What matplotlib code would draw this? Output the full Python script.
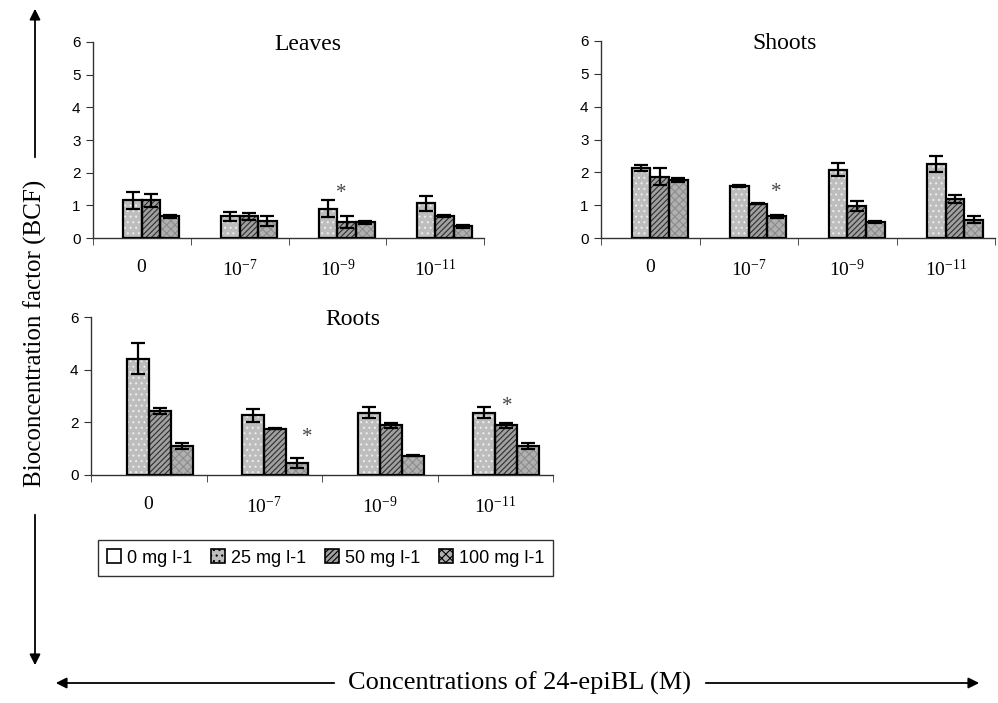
import numpy as np
import matplotlib
matplotlib.use('Agg')
import matplotlib.pyplot as plt
from matplotlib.patches import Patch

# 数据
categories = [r'$\mathregular{0}$', r'$\mathregular{10^{-7}}$',
              r'$\mathregular{10^{-9}}$', r'$\mathregular{10^{-11}}$']
series = ['0 mg l-1', '25 mg l-1', '50 mg l-1', '100 mg l-1']

leaves_0 = [0, 0, 0, 0]
leaves_25 = [1.15, 0.66, 0.90, 1.06]
leaves_50 = [1.15, 0.66, 0.49, 0.66]
leaves_100 = [0.66, 0.51, 0.48, 0.36]
leaves_25_err = [0.25, 0.15, 0.25, 0.24]
leaves_50_err = [0.20, 0.10, 0.17, 0.03]
leaves_100_err = [0.05, 0.15, 0.05, 0.04]

shoots_0 = [0, 0, 0, 0]
shoots_25 = [2.13, 1.59, 2.08, 2.26]
shoots_50 = [1.87, 1.05, 0.98, 1.19]
shoots_100 = [1.77, 0.66, 0.50, 0.56]
shoots_25_err = [0.10, 0.03, 0.20, 0.24]
shoots_50_err = [0.27, 0.02, 0.16, 0.11]
shoots_100_err = [0.05, 0.04, 0.03, 0.10]

roots_0 = [0, 0, 0, 0]
roots_25 = [4.42, 2.26, 2.37, 2.37]
roots_50 = [2.44, 1.76, 1.89, 1.89]
roots_100 = [1.10, 0.44, 0.74, 1.10]
roots_25_err = [0.60, 0.26, 0.20, 0.20]
roots_50_err = [0.12, 0.02, 0.10, 0.10]
roots_100_err = [0.12, 0.19, 0.03, 0.11]

# 星号: (类别, 偏移, y)
leaves_stars = [(2, 0.04, 1.37)]
shoots_stars = [(1, 0.28, 1.40)]
roots_stars = [(1, 0.37, 1.44), (3, 0.10, 2.62)]

SERIF = 'Liberation Serif'
SANS = 'Liberation Sans'
plt.rcParams['font.family'] = SANS
plt.rcParams['hatch.linewidth'] = 0.8

# 填充样式
faces = ['white', '#bdbdbd', '#a0a0a0', '#b0b0b0']
hatches = [None, '...', '//////', 'xxxx']
hatch_cols = [None, '#ececec', '#2e2e2e', '#8c8c8c']
bw = 0.19

fig = plt.figure(figsize=(9.98, 7.03), dpi=100)
W, H = 998, 703


def px_axes(l, t, r, b):
    return fig.add_axes([l / W, 1 - b / H, (r - l) / W, (b - t) / H])


def draw_panel(ax, title, tx, vals, errs, stars, yticks):
    x = np.arange(len(categories))
    for i, v in enumerate(vals):
        pos = x + (i - 1.5) * bw
        v = np.array(v)
        if v.max() == 0:
            continue
        ax.bar(pos, v, bw, color=faces[i], linewidth=0, zorder=2)
        if hatches[i]:
            ax.bar(pos, v, bw, fill=False, hatch=hatches[i],
                   edgecolor=hatch_cols[i], linewidth=0, zorder=3)
        ax.bar(pos, v, bw, fill=False, edgecolor='black', linewidth=1.6, zorder=4)
        if errs[i] is not None:
            ax.errorbar(pos, v, yerr=errs[i], fmt='none', ecolor='black',
                        elinewidth=1.6, capsize=5, capthick=1.6, zorder=5)
    for c, off, y in stars:
        ax.text(c + off, y, '*', ha='center', va='center', fontsize=15,
                family=SERIF, color='#444444', zorder=6)
    ax.text(tx, 0.985, title, transform=ax.transAxes, ha='center', va='center',
            fontsize=17, family=SERIF)
    ax.set_xlim(-0.5, len(categories) - 0.5)
    ax.set_ylim(0, 6)
    ax.set_yticks(yticks)
    ax.set_xticks(x)
    ax.set_xticklabels(categories, family=SERIF, fontsize=14)
    ax.set_xticks(np.arange(len(categories) + 1) - 0.5, minor=True)
    ax.tick_params(axis='x', which='major', length=0, pad=15)
    ax.tick_params(axis='x', which='minor', length=5, direction='out', color='#333333')
    ax.tick_params(axis='y', length=5, direction='out', labelsize=11, pad=4,
                   color='#333333')
    for s in ['top', 'right']:
        ax.spines[s].set_visible(False)
    for s in ['left', 'bottom']:
        ax.spines[s].set_color('#333333')
        ax.spines[s].set_linewidth(1.0)
    ax.set_facecolor('none')


ax1 = px_axes(93, 42, 484, 238)
draw_panel(ax1, 'Leaves', 0.55,
           [leaves_0, leaves_25, leaves_50, leaves_100],
           [None, leaves_25_err, leaves_50_err, leaves_100_err],
           leaves_stars, range(0, 7))

ax2 = px_axes(601, 41, 995, 238)
draw_panel(ax2, 'Shoots', 0.467,
           [shoots_0, shoots_25, shoots_50, shoots_100],
           [None, shoots_25_err, shoots_50_err, shoots_100_err],
           shoots_stars, range(0, 7))

ax3 = px_axes(91, 317, 553, 475)
draw_panel(ax3, 'Roots', 0.567,
           [roots_0, roots_25, roots_50, roots_100],
           [None, roots_25_err, roots_50_err, roots_100_err],
           roots_stars, range(0, 7, 2))

# 图例
handles = []
for i, name in enumerate(series):
    handles.append(Patch(facecolor=faces[i], edgecolor='black', linewidth=1.2,
                         hatch=hatches[i] if hatches[i] else None, label=name))
leg = fig.legend(handles=handles, ncol=4, loc='center',
                 bbox_to_anchor=(98 / W, 1 - 576 / H, 455 / W, 36 / H),
                 mode='expand', fontsize=13, frameon=True, fancybox=False,
                 handlelength=0.8, handleheight=0.8, handletextpad=0.3,
                 borderaxespad=0, borderpad=0.5, columnspacing=0.6)
leg.get_frame().set_edgecolor('black')
leg.get_frame().set_linewidth(1.0)


# 坐标轴箭头
def arrow(x0, y0, x1, y1):
    fig.add_artist(matplotlib.patches.FancyArrowPatch(
        (x0 / W, 1 - y0 / H), (x1 / W, 1 - y1 / H), transform=fig.transFigure,
        arrowstyle='-|>', mutation_scale=16, lw=1.3, color='black'))


arrow(35, 160, 35, 6)
arrow(35, 512, 35, 668)
arrow(337, 683, 53, 683)
arrow(703, 683, 982, 683)

fig.text(35 / W, 1 - 333 / H, 'Bioconcentration factor (BCF)', rotation=90,
         ha='center', va='center', fontsize=18, family=SERIF)
fig.text(520 / W, 1 - 683 / H, 'Concentrations of 24-epiBL (M)',
         ha='center', va='center', fontsize=19, family=SERIF)

plt.savefig('out.png', dpi=100)
plt.close()
